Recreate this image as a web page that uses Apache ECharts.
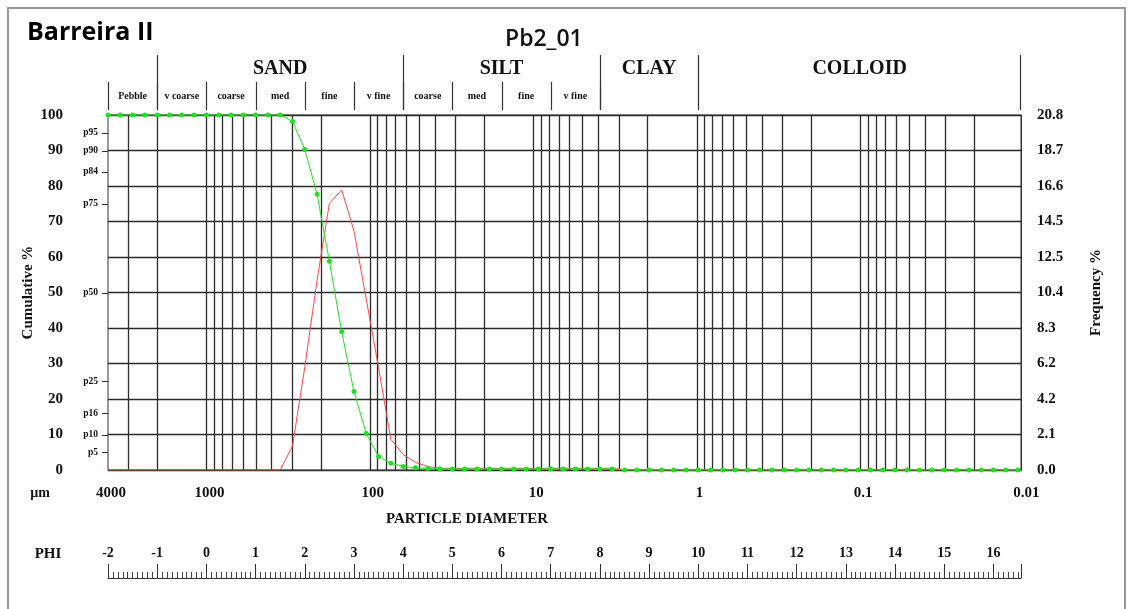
<!DOCTYPE html>
<html><head><meta charset="utf-8">
<script src="https://cdn.jsdelivr.net/npm/echarts@6/dist/echarts.min.js"></script>
<style>html,body{margin:0;padding:0;background:#fff}#c{width:1133px;height:609px}</style>
</head><body><div id="c"></div>
<script>
// ---- data ----
const phi = [-2,-1.75,-1.5,-1.25,-1,-0.75,-0.5,-0.25,0,0.25,0.5,0.75,1,1.25,1.5,1.75,2,2.25,2.5,2.75,3,3.25,3.5,3.75,4,4.25,4.5,4.75,5,5.25,5.5,5.75,6,6.25,6.5,6.75,7,7.25,7.5,7.75,8,8.25,8.5,8.75,9,9.25,9.5,9.75,10,10.25,10.5,10.75,11,11.25,11.5,11.75,12,12.25,12.5,12.75,13,13.25,13.5,13.75,14,14.25,14.5,14.75,15,15.25,15.5,15.75,16,16.25,16.5];
const cumulative = [100,100,100,100,100,100,100,100,100,100,100,100,100,100,100,
  98.2,90.3,77.7,58.8,39.0,22.1,10.3,3.8,1.9,1.0,0.6,0.4,
  0.3,0.3,0.3,0.3,0.3,0.3,0.3,0.3,0.3,0.3,0.3,0.3,0.3,0.3,0.3,
  0,0,0,0,0,0,0,0,0,0,0,0,0,0,0,0,0,0,0,0,0,0,0,0,0,0,0,0,0,0,0,0,0];
const frequency = [0,0,0,0,0,0,0,0,0,0,0,0,0,0,0,
  1.4,6.0,11.1,15.6,16.4,14.0,10.0,6.0,1.8,0.9,0.45,0.2,
  0.1,0.1,0.1,0.1,0.1,0.1,0.1,0.1,0.1,0.1,0.1,0.1,0.1,0.1,0.1,
  0,0,0,0,0,0,0,0,0,0,0,0,0,0,0,0,0,0,0,0,0,0,0,0,0,0,0,0,0,0,0,0,0];
const cumTicks = ['0','10','20','30','40','50','60','70','80','90','100'];
const freqTicks = ['0.0','2.1','4.2','6.2','8.3','10.4','12.5','14.5','16.6','18.7','20.8'];
const pValues = [95,90,84,75,50,25,16,10,5];
const pLabels = ['p95','p90','p84','p75','p50','p25','p16','p10','p5'];
const diamValues = [4000,1000,100,10,1,0.1,0.01];
const diamLabels = ['4000','1000','100','10','1','0.1','0.01'];
const gridDiameters = [3000,2000,1000,900,800,700,600,500,400,300,200,100,90,80,70,60,50,40,30,20,10,9,8,7,6,5,4,3,2,1,0.9,0.8,0.7,0.6,0.5,0.4,0.3,0.2,0.1,0.09,0.08,0.07,0.06,0.05,0.04,0.03,0.02];
const phiTicks = ['-2','-1','0','1','2','3','4','5','6','7','8','9','10','11','12','13','14','15','16'];
const subClasses = ['Pebble','v coarse','coarse','med','fine','v fine','coarse','med','fine','v fine'];
const subBounds = [-2,-1,0,1,2,3,4,5,6,7,8];
const mainClasses = ['SAND','SILT','CLAY','COLLOID'];
const mainBounds = [-1,4,8,10,16.56];
const X_MIN = -2, X_MAX = 16.56, FREQ_MAX = 20.78;

// ---- helpers ----
const toPhi = d => -Math.log2(d / 1000);
const SERIF = '"Liberation Serif", "Times New Roman", serif';
const INK = '#111';
const GRID = '#2b2b2b';
const crisp = x => Math.round(x) + 0.5;

const chart = echarts.init(document.getElementById('c'), null, {renderer: 'canvas'});

const option = {
  animation: false,
  backgroundColor: '#fff',
  title: [
    {text: 'Barreira II', left: 22, top: 15, textStyle: {fontFamily: '"Open Sans", sans-serif', fontWeight: 'bold', fontSize: 25, color: '#000'}},
    {text: 'Pb2_01', left: 500, top: 23, textStyle: {fontFamily: '"Open Sans", sans-serif', fontWeight: 600, fontSize: 23, color: '#111'}}
  ],
  graphic: [
    {type: 'rect', shape: {x: 8, y: 8, width: 1117, height: 640}, style: {fill: 'none', stroke: '#999', lineWidth: 2}, silent: true},
    {type: 'text', x: 467, y: 519, style: {text: 'PARTICLE DIAMETER', font: 'bold 15px ' + SERIF, fill: INK, align: 'center', verticalAlign: 'middle'}},
    {type: 'text', x: 40, y: 493, style: {text: 'µm', font: 'bold 14px ' + SERIF, fill: INK, align: 'center', verticalAlign: 'middle'}},
    {type: 'text', x: 48, y: 554, style: {text: 'PHI', font: 'bold 15px ' + SERIF, fill: INK, align: 'center', verticalAlign: 'middle'}}
  ],
  grid: [
    {left: 108, top: 115, width: 913, height: 355, show: true, borderColor: '#333', borderWidth: 1, backgroundColor: 'transparent'},
    {left: 108, top: 577, width: 913, height: 1, show: false}
  ],
  xAxis: [
    {type: 'value', gridIndex: 0, min: X_MIN, max: X_MAX, axisLine: {show: true, lineStyle: {color: '#333'}}, axisTick: {show: false}, axisLabel: {show: false}, splitLine: {show: false}},
    {type: 'value', gridIndex: 1, position: 'top', min: X_MIN, max: X_MAX, interval: 1,
      axisLine: {show: true, lineStyle: {color: '#333', width: 1}},
      axisTick: {show: true, length: 14, lineStyle: {color: '#333'}},
      minorTick: {show: true, splitNumber: 10, length: 6, lineStyle: {color: '#444'}},
      axisLabel: {margin: 17, fontFamily: SERIF, fontWeight: 'bold', fontSize: 14, color: INK, showMaxLabel: false,
        formatter: v => { const i = Math.round(v - X_MIN); return (Math.abs(v - Math.round(v)) < 1e-6 && phiTicks[i] !== undefined) ? phiTicks[i] : ''; }},
      splitLine: {show: false}}
  ],
  yAxis: [
    {type: 'value', gridIndex: 0, min: 0, max: 100, interval: 10, position: 'left',
      name: 'Cumulative %', nameLocation: 'middle', nameRotate: 90, nameGap: 72, nameMoveOverlap: false,
      nameTextStyle: {fontFamily: SERIF, fontWeight: 'bold', fontSize: 15, color: INK},
      axisLine: {show: true, lineStyle: {color: '#333'}}, axisTick: {show: false},
      axisLabel: {margin: 45, fontFamily: SERIF, fontWeight: 'bold', fontSize: 15, color: INK,
        formatter: v => cumTicks[Math.round(v / 10)]},
      splitLine: {show: true, lineStyle: {color: GRID, width: 1.3}}},
    {type: 'value', gridIndex: 0, min: 0, max: FREQ_MAX, interval: FREQ_MAX / 10, position: 'right',
      name: 'Frequency %', nameLocation: 'middle', nameRotate: 90, nameGap: 68, nameMoveOverlap: false,
      nameTextStyle: {fontFamily: SERIF, fontWeight: 'bold', fontSize: 15, color: INK},
      axisLine: {show: true, lineStyle: {color: '#333'}}, axisTick: {show: false},
      axisLabel: {margin: 16, fontFamily: SERIF, fontWeight: 'bold', fontSize: 15, color: INK,
        formatter: v => freqTicks[Math.round(v / (FREQ_MAX / 10))]},
      splitLine: {show: false}},
    {type: 'value', gridIndex: 1, show: false, min: 0, max: 1}
  ],
  series: [
    { // vertical log grid lines
      type: 'custom', xAxisIndex: 0, yAxisIndex: 0, z: 1, silent: true, clip: false,
      data: gridDiameters.map(d => [toPhi(d), 0]),
      renderItem: (params, api) => {
        const p0 = api.coord([api.value(0), 0]);
        const p1 = api.coord([api.value(0), 100]);
        const x = crisp(p0[0]);
        return {type: 'line', shape: {x1: x, y1: p0[1], x2: x, y2: p1[1]}, style: {stroke: GRID, lineWidth: 1.3}};
      }
    },
    { // sub-class header
      type: 'custom', xAxisIndex: 0, yAxisIndex: 0, z: 3, silent: true, clip: false,
      data: subClasses.map((c, i) => [subBounds[i], subBounds[i + 1]]),
      renderItem: (params, api) => {
        const i = params.dataIndex;
        const a = api.coord([api.value(0), 100]);
        const b = api.coord([api.value(1), 100]);
        const top = a[1];
        const kids = [
          {type: 'line', shape: {x1: crisp(a[0]), y1: top - 33, x2: crisp(a[0]), y2: top - 5}, style: {stroke: '#333', lineWidth: 1.2}},
          {type: 'text', x: (a[0] + b[0]) / 2, y: top - 19, style: {text: subClasses[i], font: 'bold 10px ' + SERIF, fill: INK, align: 'center', verticalAlign: 'middle'}}
        ];
        if (i === subClasses.length - 1) kids.push({type: 'line', shape: {x1: crisp(b[0]), y1: top - 33, x2: crisp(b[0]), y2: top - 5}, style: {stroke: '#333', lineWidth: 1.2}});
        return {type: 'group', children: kids};
      }
    },
    { // main class header
      type: 'custom', xAxisIndex: 0, yAxisIndex: 0, z: 3, silent: true, clip: false,
      data: mainClasses.map((c, i) => [mainBounds[i], mainBounds[i + 1]]),
      renderItem: (params, api) => {
        const i = params.dataIndex;
        const a = api.coord([api.value(0), 100]);
        const b = api.coord([api.value(1), 100]);
        const top = a[1];
        const kids = [
          {type: 'line', shape: {x1: crisp(a[0]), y1: top - 60, x2: crisp(a[0]), y2: top - 5}, style: {stroke: '#333', lineWidth: 1.2}},
          {type: 'text', x: (a[0] + b[0]) / 2, y: top - 46, style: {text: mainClasses[i], font: 'bold 20px ' + SERIF, fill: INK, align: 'center', verticalAlign: 'middle'}}
        ];
        if (i === mainClasses.length - 1) kids.push({type: 'line', shape: {x1: crisp(b[0]) - 1, y1: top - 60, x2: crisp(b[0]) - 1, y2: top - 5}, style: {stroke: '#333', lineWidth: 1.2}});
        return {type: 'group', children: kids};
      }
    },
    { // percentile ticks on left axis
      type: 'custom', xAxisIndex: 0, yAxisIndex: 0, z: 3, silent: true, clip: false,
      data: pValues.map(v => [X_MIN, v]),
      renderItem: (params, api) => {
        const p = api.coord([api.value(0), api.value(1)]);
        const y = crisp(p[1]);
        return {type: 'group', children: [
          {type: 'line', shape: {x1: p[0] - 6, y1: y, x2: p[0], y2: y}, style: {stroke: '#333', lineWidth: 1}},
          {type: 'text', x: p[0] - 10, y: p[1], style: {text: pLabels[params.dataIndex], font: 'bold 9.5px ' + SERIF, fill: INK, align: 'right', verticalAlign: 'middle'}}
        ]};
      }
    },
    { // diameter labels under the axis
      type: 'custom', xAxisIndex: 0, yAxisIndex: 0, z: 3, silent: true, clip: false,
      data: diamValues.map(d => [toPhi(d), 0]),
      renderItem: (params, api) => {
        const p = api.coord([api.value(0), 0]);
        return {type: 'text', x: p[0] + 3, y: p[1] + 23, style: {text: diamLabels[params.dataIndex], font: 'bold 15px ' + SERIF, fill: INK, align: 'center', verticalAlign: 'middle'}};
      }
    },
    {
      name: 'Frequency', type: 'line', xAxisIndex: 0, yAxisIndex: 1, z: 5,
      data: phi.map((p, i) => [p, frequency[i]]),
      showSymbol: false, symbol: 'none',
      lineStyle: {color: '#ff4545', width: 1}
    },
    {
      name: 'Cumulative', type: 'line', xAxisIndex: 0, yAxisIndex: 0, z: 6,
      data: phi.map((p, i) => [p, cumulative[i]]),
      symbol: 'circle', symbolSize: 5, showAllSymbol: true,
      lineStyle: {color: '#19e619', width: 1},
      itemStyle: {color: '#19e619', borderWidth: 0}
    }
  ]
};
chart.setOption(option);
</script>
</body></html>
